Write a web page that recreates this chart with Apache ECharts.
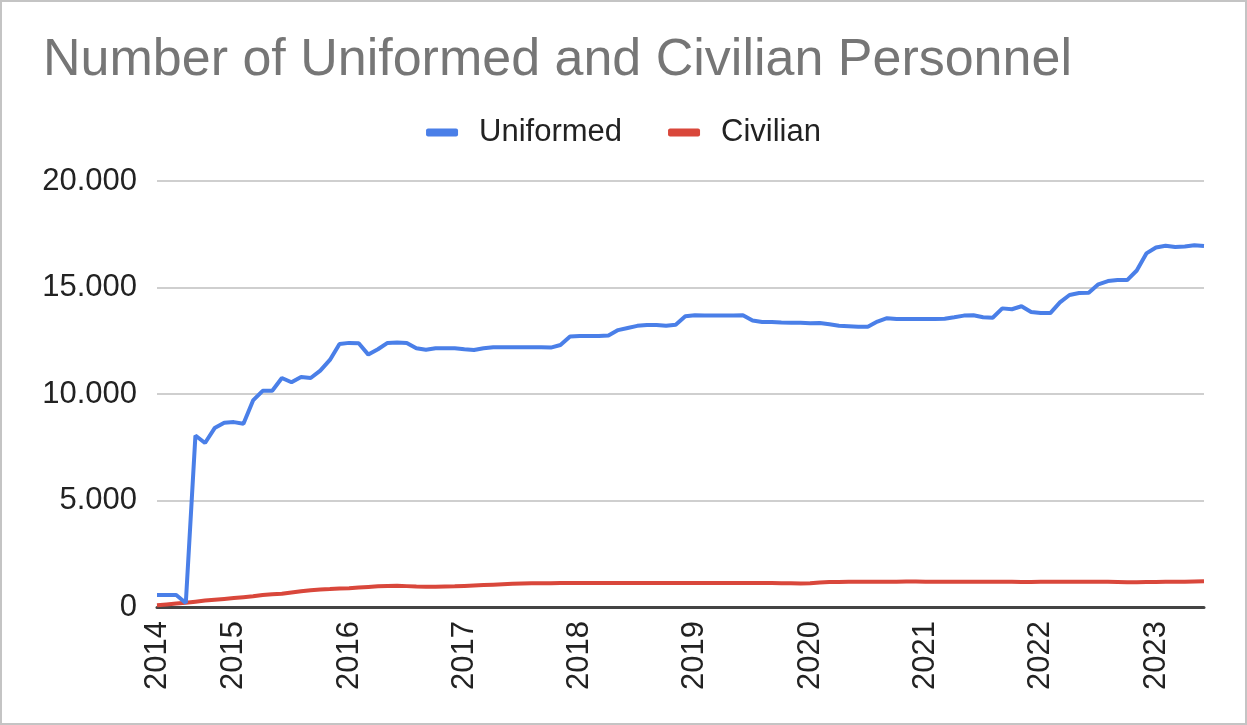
<!DOCTYPE html>
<html>
<head>
<meta charset="utf-8">
<script src="https://cdn.jsdelivr.net/npm/echarts@6/dist/echarts.min.js"></script>
<style>
html,body{margin:0;padding:0;background:#fff;}
#frame{position:absolute;left:0;top:0;width:1243px;height:721px;border:2px solid #c4c4c4;}
#chart{position:absolute;left:0;top:0;width:1247px;height:725px;}
</style>
</head>
<body>
<div id="frame"></div>
<div id="chart"></div>
<script>
const titleText = 'Number of Uniformed and Civilian Personnel';
const seriesNames = ['Uniformed', 'Civilian'];
const months = [
 '2014-05','2014-06','2014-07','2014-08','2014-09','2014-10','2014-11','2014-12',
 '2015-01','2015-02','2015-03','2015-04','2015-05','2015-06','2015-07','2015-08','2015-09','2015-10','2015-11','2015-12',
 '2016-01','2016-02','2016-03','2016-04','2016-05','2016-06','2016-07','2016-08','2016-09','2016-10','2016-11','2016-12',
 '2017-01','2017-02','2017-03','2017-04','2017-05','2017-06','2017-07','2017-08','2017-09','2017-10','2017-11','2017-12',
 '2018-01','2018-02','2018-03','2018-04','2018-05','2018-06','2018-07','2018-08','2018-09','2018-10','2018-11','2018-12',
 '2019-01','2019-02','2019-03','2019-04','2019-05','2019-06','2019-07','2019-08','2019-09','2019-10','2019-11','2019-12',
 '2020-01','2020-02','2020-03','2020-04','2020-05','2020-06','2020-07','2020-08','2020-09','2020-10','2020-11','2020-12',
 '2021-01','2021-02','2021-03','2021-04','2021-05','2021-06','2021-07','2021-08','2021-09','2021-10','2021-11','2021-12',
 '2022-01','2022-02','2022-03','2022-04','2022-05','2022-06','2022-07','2022-08','2022-09','2022-10','2022-11','2022-12',
 '2023-01','2023-02','2023-03','2023-04','2023-05','2023-06'
];
const uniformed = [
 560,560,560,190,8050,7700,8400,8650,
 8680,8600,9700,10150,10150,10750,10550,10800,10750,11100,11600,12350,
 12400,12380,11850,12100,12400,12420,12400,12150,12080,12150,12150,12150,
 12100,12070,12150,12200,12200,12200,12200,12200,12200,12180,12300,12700,
 12720,12720,12720,12750,13000,13100,13200,13240,13240,13200,13250,13650,
 13700,13680,13680,13690,13680,13700,13450,13380,13380,13360,13350,13340,
 13320,13330,13270,13200,13180,13160,13160,13400,13560,13520,13520,13520,
 13520,13520,13530,13600,13680,13700,13600,13580,14020,13980,14120,13850,
 13800,13800,14300,14650,14740,14750,15150,15300,15350,15350,15800,16600,
 16880,16960,16900,16920,16980,16950
];
const civilian = [
 80,120,160,200,250,300,340,380,
 420,460,500,560,600,620,680,740,790,820,840,870,
 880,910,940,970,990,1000,980,960,950,950,960,970,
 990,1010,1030,1050,1070,1090,1100,1110,1120,1120,1130,1130,
 1130,1130,1130,1130,1130,1130,1130,1130,1130,1130,1130,1130,
 1130,1130,1130,1130,1130,1130,1130,1130,1130,1120,1110,1100,
 1110,1150,1170,1170,1180,1180,1180,1190,1190,1190,1200,1200,
 1190,1190,1190,1180,1180,1180,1190,1190,1190,1180,1170,1170,
 1180,1180,1190,1190,1190,1190,1190,1180,1170,1160,1160,1170,
 1170,1180,1180,1190,1200,1210
];
const yTicks = {min: 0, max: 20000, interval: 5000};
const colors = ['#4a7fe8', '#d9473b'];

const chart = echarts.init(document.getElementById('chart'));
const font = '"Liberation Sans", Arial, sans-serif';
chart.setOption({
  animation: false,
  color: colors,
  title: {
    text: titleText, left: 38, top: 30,
    textStyle: {fontFamily: font, fontSize: 52, fontWeight: 'normal', color: '#767676'}
  },
  legend: {
    top: 112, left: 'center',
    data: seriesNames,
    icon: 'roundRect', itemWidth: 32, itemHeight: 8, itemGap: 46,
    textStyle: {fontFamily: font, fontSize: 31, color: '#222', padding: [0, 0, 0, 16]}
  },
  grid: {left: 157, right: 43, top: 181, bottom: 118, containLabel: false},
  xAxis: {
    type: 'category', data: months, boundaryGap: false,
    axisLine: {show: true, lineStyle: {color: '#444', width: 3}},
    axisTick: {show: false},
    splitLine: {show: false},
    axisLabel: {
      rotate: 90, margin: 14, fontFamily: font, fontSize: 31, color: '#222',
      interval: (i, v) => i === 0 || v.endsWith('-01'),
      formatter: v => v.slice(0, 4)
    }
  },
  yAxis: {
    type: 'value', min: yTicks.min, max: yTicks.max, interval: yTicks.interval,
    axisLine: {show: false}, axisTick: {show: false},
    splitLine: {lineStyle: {color: '#cfcfcf', width: 2}},
    axisLabel: {
      margin: 20, fontFamily: font, fontSize: 31, color: '#222',
      formatter: v => String(v).replace(/\B(?=(\d{3})+(?!\d))/g, '.')
    }
  },
  series: [
    {name: seriesNames[0], type: 'line', data: uniformed, showSymbol: false, lineStyle: {width: 4}, z: 3},
    {name: seriesNames[1], type: 'line', data: civilian, showSymbol: false, lineStyle: {width: 4}, z: 2}
  ]
});
</script>
</body>
</html>
